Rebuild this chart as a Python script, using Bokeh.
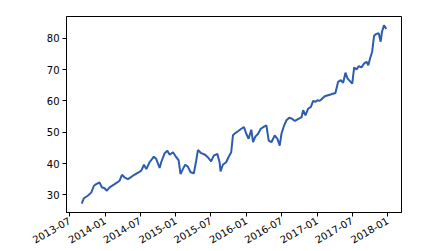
import math
import pandas as pd
from bokeh.plotting import figure
from bokeh.models import Range1d, FixedTicker, DatetimeTickFormatter, ColumnDataSource
from bokeh.embed import file_html
from bokeh.resources import INLINE

dates = [
    "2013-09-02", "2013-09-13", "2013-10-03", "2013-10-21", "2013-11-04", "2013-11-16",
    "2013-12-03", "2013-12-15", "2013-12-29", "2014-01-10", "2014-01-24", "2014-02-19",
    "2014-03-17", "2014-03-29", "2014-04-11", "2014-04-29", "2014-05-25", "2014-06-23",
    "2014-07-07", "2014-07-21", "2014-08-02", "2014-08-19", "2014-09-10", "2014-09-22",
    "2014-10-10", "2014-10-18", "2014-11-05", "2014-11-19", "2014-12-01", "2014-12-18",
    "2015-01-04", "2015-01-16", "2015-01-26", "2015-02-07", "2015-02-19", "2015-03-05",
    "2015-03-19", "2015-04-05", "2015-04-17", "2015-04-26", "2015-05-13", "2015-06-02",
    "2015-06-16", "2015-07-03", "2015-07-17", "2015-08-04", "2015-08-16", "2015-08-21",
    "2015-09-02", "2015-09-19", "2015-10-01", "2015-10-15", "2015-10-24", "2015-11-05",
    "2015-11-19", "2015-12-06", "2015-12-20", "2016-01-01", "2016-01-13", "2016-01-27",
    "2016-02-05", "2016-02-17", "2016-03-02", "2016-03-16", "2016-04-02", "2016-04-14",
    "2016-04-26", "2016-05-10", "2016-05-27", "2016-06-10", "2016-06-22", "2016-07-01",
    "2016-07-15", "2016-07-27", "2016-08-10", "2016-08-25", "2016-09-08", "2016-09-29",
    "2016-10-13", "2016-10-21", "2016-11-02", "2016-11-16", "2016-11-30", "2016-12-12",
    "2016-12-24", "2017-01-03", "2017-01-15", "2017-01-27", "2017-02-10", "2017-02-27",
    "2017-03-16", "2017-04-06", "2017-04-20", "2017-05-04", "2017-05-16", "2017-05-28",
    "2017-06-07", "2017-06-19", "2017-07-02", "2017-07-12", "2017-07-24", "2017-08-05",
    "2017-08-19", "2017-09-02", "2017-09-14", "2017-09-23", "2017-10-01", "2017-10-13",
    "2017-10-23", "2017-11-04", "2017-11-16", "2017-11-26", "2017-12-03", "2017-12-13",
    "2017-12-25",
]
prices = [
    27.2, 28.9, 29.7, 30.7, 32.9, 33.4,
    34.0, 32.4, 32.1, 31.3, 32.4, 33.4,
    34.5, 36.4, 35.6, 35.0, 36.1, 37.2,
    37.7, 39.6, 38.2, 40.4, 42.2, 41.5,
    38.6, 40.4, 43.3, 44.1, 42.8, 43.6,
    42.0, 41.1, 36.6, 38.2, 39.6, 39.0,
    37.2, 36.9, 40.9, 44.3, 43.3, 42.8,
    42.0, 40.7, 42.5, 43.1, 40.4, 37.5,
    39.6, 40.4, 42.0, 43.6, 49.0, 49.7,
    50.3, 51.1, 51.6, 49.5, 47.9, 50.8,
    46.8, 48.6, 49.5, 51.1, 51.8, 52.2,
    47.3, 46.8, 49.0, 47.9, 45.7, 49.5,
    52.2, 53.8, 54.6, 54.3, 53.6, 54.3,
    54.8, 57.0, 55.4, 57.5, 58.1, 60.0,
    59.7, 60.2, 60.0, 60.7, 61.5, 61.8,
    62.1, 62.5, 66.1, 66.6, 65.8, 69.0,
    67.2, 66.4, 65.5, 70.7, 70.0, 71.1,
    70.7, 72.0, 72.5, 71.4, 73.3, 75.7,
    80.8, 81.4, 81.6, 78.9, 82.1, 84.1,
    83.0,
]
x_tick_labels = ["2013-07", "2014-01", "2014-07", "2015-01", "2015-07",
                 "2016-01", "2016-07", "2017-01", "2017-07", "2018-01"]
y_ticks = [30, 40, 50, 60, 70, 80]

dt = pd.to_datetime(dates)
src = ColumnDataSource(dict(x=dt, y=prices))

def ms(t):
    return t.value / 1e6

x0, x1 = ms(dt.min()), ms(dt.max())
xpad = (x1 - x0) * 0.05
y0, y1 = min(prices), max(prices)
ypad = (y1 - y0) * 0.05

p = figure(width=441, height=251, x_axis_type="datetime",
           output_backend="svg", toolbar_location=None,
           x_range=Range1d(x0 - xpad, x1 + xpad),
           y_range=Range1d(y0 - ypad, y1 + ypad),
           min_border_left=66, min_border_right=40,
           min_border_top=16, min_border_bottom=39)

p.line("x", "y", source=src, line_color="#2b5cb0", line_width=2)

p.grid.visible = False
p.outline_line_color = "black"
p.outline_line_width = 1
p.background_fill_color = "white"
p.border_fill_color = "white"

p.xaxis.ticker = FixedTicker(ticks=[ms(pd.Timestamp(s + "-01")) for s in x_tick_labels])
p.xaxis.formatter = DatetimeTickFormatter(months="%Y-%m", days="%Y-%m", years="%Y-%m")
p.xaxis.major_label_orientation = math.pi / 6
p.yaxis.ticker = FixedTicker(ticks=y_ticks)

for ax in (p.xaxis[0], p.yaxis[0]):
    ax.axis_line_color = "black"
    ax.major_tick_line_color = "black"
    ax.major_tick_out = 4
    ax.major_tick_in = 0
    ax.minor_tick_line_color = None
    ax.major_label_text_font = "DejaVu Sans"
    ax.major_label_text_font_size = "10px"
    ax.major_label_text_color = "black"
    ax.major_label_standoff = 3

open("out.html", "w").write(file_html(p, INLINE))
